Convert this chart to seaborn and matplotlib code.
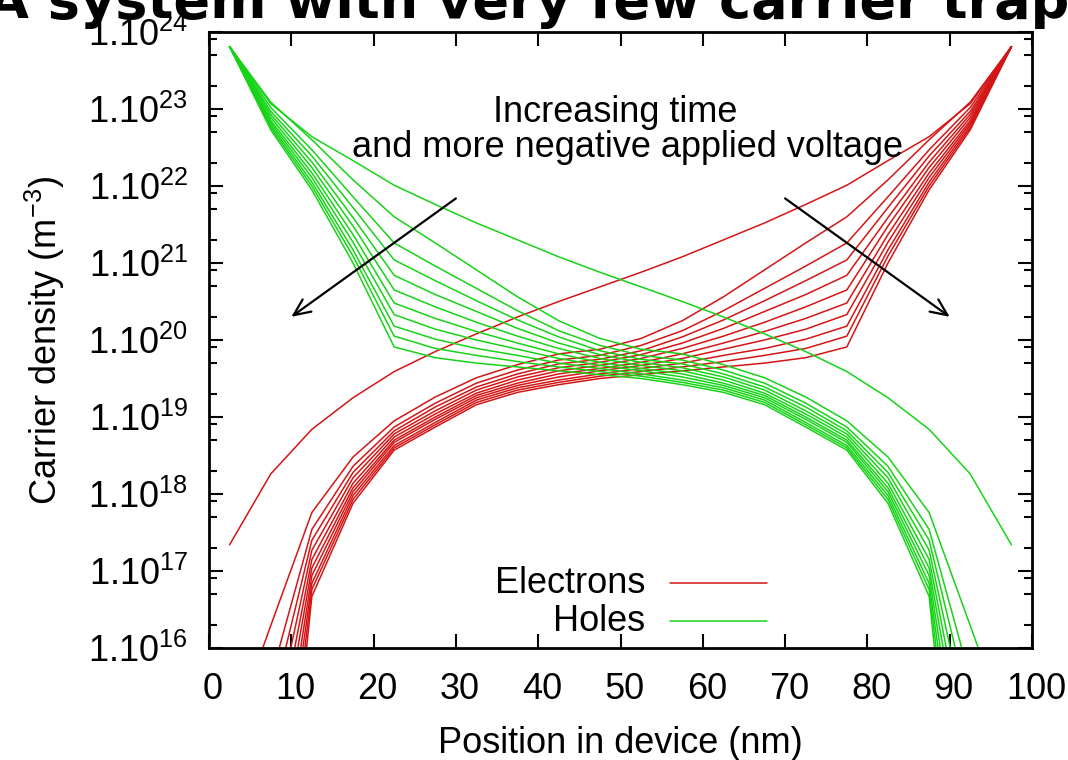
import numpy as np
import pandas as pd
import matplotlib
matplotlib.use("Agg")
import matplotlib.pyplot as plt
import matplotlib.transforms as mtransforms
from matplotlib.ticker import FixedLocator, NullFormatter, FuncFormatter
import seaborn as sns

# Grid positions (nm) of the simulation output
position_nm = [2.5, 7.5, 12.5, 17.5, 22.5, 27.5, 32.5, 37.5, 42.5, 47.5,
               52.5, 57.5, 62.5, 67.5, 72.5, 77.5, 82.5, 87.5, 92.5, 97.5]

# log10 of electron density (m^-3), one list per output time
e_t0 = [17.34, 18.26, 18.84, 19.25, 19.59, 19.85, 20.08, 20.30, 20.50, 20.69, 20.88, 21.08, 21.30, 21.52, 21.76, 22.01, 22.33, 22.64, 23.07, 23.81]
e_t1 = [14.80, 16.29, 17.76, 18.48, 18.95, 19.26, 19.51, 19.68, 19.82, 19.88, 20.02, 20.25, 20.56, 20.91, 21.26, 21.60, 22.08, 22.60, 23.09, 23.81]
e_t2 = [13.60, 15.60, 17.54, 18.36, 18.87, 19.18, 19.44, 19.61, 19.74, 19.80, 19.93, 20.12, 20.38, 20.67, 20.96, 21.26, 21.86, 22.47, 23.02, 23.81]
e_t3 = [13.20, 15.20, 17.40, 18.28, 18.82, 19.13, 19.39, 19.56, 19.69, 19.75, 19.86, 20.04, 20.26, 20.51, 20.77, 21.04, 21.72, 22.39, 22.97, 23.81]
e_t4 = [12.80, 14.80, 17.27, 18.21, 18.78, 19.08, 19.35, 19.52, 19.64, 19.71, 19.81, 19.96, 20.15, 20.37, 20.59, 20.84, 21.59, 22.31, 22.93, 23.81]
e_t5 = [12.40, 14.40, 17.15, 18.14, 18.74, 19.04, 19.31, 19.48, 19.60, 19.67, 19.76, 19.89, 20.05, 20.23, 20.43, 20.65, 21.48, 22.24, 22.89, 23.81]
e_t6 = [12.00, 14.00, 17.04, 18.08, 18.70, 19.00, 19.28, 19.44, 19.56, 19.63, 19.71, 19.82, 19.96, 20.11, 20.28, 20.48, 21.37, 22.17, 22.85, 23.81]
e_t7 = [11.50, 13.50, 16.94, 18.03, 18.67, 18.97, 19.25, 19.41, 19.52, 19.60, 19.67, 19.76, 19.88, 20.00, 20.14, 20.33, 21.27, 22.11, 22.82, 23.81]
e_t8 = [11.00, 13.00, 16.84, 17.98, 18.63, 18.93, 19.22, 19.38, 19.48, 19.56, 19.63, 19.70, 19.80, 19.89, 20.01, 20.18, 21.17, 22.05, 22.79, 23.81]
e_t9 = [10.30, 12.30, 16.76, 17.93, 18.60, 18.90, 19.19, 19.35, 19.45, 19.53, 19.59, 19.65, 19.72, 19.80, 19.89, 20.05, 21.09, 22.00, 22.76, 23.81]
e_t10 = [8.00, 11.50, 16.67, 17.88, 18.57, 18.87, 19.16, 19.32, 19.42, 19.50, 19.55, 19.60, 19.65, 19.70, 19.77, 19.91, 21.00, 21.95, 22.73, 23.81]

# log10 of hole density (m^-3), one list per output time
h_t0 = [23.81, 23.07, 22.64, 22.33, 22.01, 21.76, 21.52, 21.30, 21.08, 20.88, 20.69, 20.50, 20.30, 20.08, 19.85, 19.59, 19.25, 18.84, 18.26, 17.34]
h_t1 = [23.81, 23.09, 22.60, 22.08, 21.60, 21.26, 20.91, 20.56, 20.25, 20.02, 19.88, 19.82, 19.68, 19.51, 19.26, 18.95, 18.48, 17.76, 16.29, 14.80]
h_t2 = [23.81, 23.02, 22.47, 21.86, 21.26, 20.96, 20.67, 20.38, 20.12, 19.93, 19.80, 19.74, 19.61, 19.44, 19.18, 18.87, 18.36, 17.54, 15.60, 13.60]
h_t3 = [23.81, 22.97, 22.39, 21.72, 21.04, 20.77, 20.51, 20.26, 20.04, 19.86, 19.75, 19.69, 19.56, 19.39, 19.13, 18.82, 18.28, 17.40, 15.20, 13.20]
h_t4 = [23.81, 22.93, 22.31, 21.59, 20.84, 20.59, 20.37, 20.15, 19.96, 19.81, 19.71, 19.64, 19.52, 19.35, 19.08, 18.78, 18.21, 17.27, 14.80, 12.80]
h_t5 = [23.81, 22.89, 22.24, 21.48, 20.65, 20.43, 20.23, 20.05, 19.89, 19.76, 19.67, 19.60, 19.48, 19.31, 19.04, 18.74, 18.14, 17.15, 14.40, 12.40]
h_t6 = [23.81, 22.85, 22.17, 21.37, 20.48, 20.28, 20.11, 19.96, 19.82, 19.71, 19.63, 19.56, 19.44, 19.28, 19.00, 18.70, 18.08, 17.04, 14.00, 12.00]
h_t7 = [23.81, 22.82, 22.11, 21.27, 20.33, 20.14, 20.00, 19.88, 19.76, 19.67, 19.60, 19.52, 19.41, 19.25, 18.97, 18.67, 18.03, 16.94, 13.50, 11.50]
h_t8 = [23.81, 22.79, 22.05, 21.17, 20.18, 20.01, 19.89, 19.80, 19.70, 19.63, 19.56, 19.48, 19.38, 19.22, 18.93, 18.63, 17.98, 16.84, 13.00, 11.00]
h_t9 = [23.81, 22.76, 22.00, 21.09, 20.05, 19.89, 19.80, 19.72, 19.65, 19.59, 19.53, 19.45, 19.35, 19.19, 18.90, 18.60, 17.93, 16.76, 12.30, 10.30]
h_t10 = [23.81, 22.73, 21.95, 21.00, 19.91, 19.77, 19.70, 19.65, 19.60, 19.55, 19.50, 19.42, 19.32, 19.16, 18.87, 18.57, 17.88, 16.67, 11.50, 8.00]

electron_steps = [e_t0, e_t1, e_t2, e_t3, e_t4, e_t5, e_t6, e_t7, e_t8, e_t9, e_t10]
hole_steps = [h_t0, h_t1, h_t2, h_t3, h_t4, h_t5, h_t6, h_t7, h_t8, h_t9, h_t10]

species_labels = ["Electrons", "Holes"]
y_exponents = list(range(16, 25))

RED = "#d41515"
GREEN = "#17d317"
FS = 26

sns.set_theme(style="ticks")
plt.rcParams.update({
    "font.family": ["Liberation Sans", "DejaVu Sans"],
    "mathtext.fontset": "custom",
    "mathtext.rm": "Liberation Sans",
    "mathtext.it": "Liberation Sans:italic",
    "mathtext.bf": "Liberation Sans:bold",
    "axes.facecolor": "white",
    "figure.facecolor": "white",
    "text.color": "black",
    "axes.labelcolor": "black",
    "xtick.color": "black",
    "ytick.color": "black",
    "xtick.labelcolor": "black",
    "ytick.labelcolor": "black",
})

# long-form table: one row per (species, time step, grid point)
rows = []
for species, steps in zip(species_labels, (electron_steps, hole_steps)):
    for step, profile in enumerate(steps):
        for x, lv in zip(position_nm, profile):
            rows.append((species, step, x, 10.0 ** lv))
df = pd.DataFrame(rows, columns=["species", "step", "position", "density"])

fig = plt.figure(figsize=(10.68, 7.6), dpi=100)
ax = fig.add_axes([209 / 1068, 1 - 648 / 760, 823 / 1068, 616 / 760])

sns.lineplot(data=df, x="position", y="density", hue="species", units="step",
             estimator=None, sort=False, palette={"Electrons": RED, "Holes": GREEN},
             linewidth=1.1, legend=False, ax=ax)

ax.set_yscale("log")
ax.set_xlim(0, 100)
ax.set_ylim(10.0 ** y_exponents[0], 10.0 ** y_exponents[-1])

ax.set_xticks(range(0, 101, 10))
ax.yaxis.set_major_locator(FixedLocator([10.0 ** k for k in y_exponents]))
ax.yaxis.set_minor_locator(FixedLocator([m * 10.0 ** k for k in y_exponents[:-1] for m in (2, 5, 8)]))
ax.yaxis.set_major_formatter(FuncFormatter(
    lambda v, p: r"$\mathregular{1.10^{%d}}$" % int(round(np.log10(v)))))
ax.yaxis.set_minor_formatter(NullFormatter())

ax.tick_params(which="both", direction="in", top=True, right=True,
               width=1.5, color="black", labelcolor="black")
ax.tick_params(which="major", length=10)
ax.tick_params(which="minor", length=6)
ax.tick_params(axis="x", which="minor", bottom=False, top=False)
ax.tick_params(axis="x", labelsize=FS, pad=17)
ax.tick_params(axis="y", labelsize=FS, pad=15)
for sp in ax.spines.values():
    sp.set_linewidth(2)
    sp.set_color("black")

ax.set_xlabel("Position in device (nm)", fontsize=FS, labelpad=14)
ax.set_ylabel(r"Carrier density (m$^{\mathregular{-3}}$)", fontsize=FS, labelpad=15)

# x tick labels sit a few pixels right of their ticks
shift = mtransforms.ScaledTranslation(4 / 100, 0, fig.dpi_scale_trans)
for lbl in ax.get_xticklabels():
    lbl.set_transform(lbl.get_transform() + shift)

# annotation text and arrows
ax.text(49.4, 10 ** 22.835, "Increasing time", ha="center", va="baseline", fontsize=FS)
ax.text(50.9, 10 ** 22.373, "and more negative applied voltage", ha="center", va="baseline", fontsize=FS)
arrow_style = dict(arrowstyle="->,head_length=1.0,head_width=0.45", color="black",
                   lw=1.6, shrinkA=0, shrinkB=0)
ax.annotate("", xy=(10, 2.0e20), xytext=(30, 6.9e21), arrowprops=arrow_style)
ax.annotate("", xy=(90, 2.0e20), xytext=(70, 6.9e21), arrowprops=arrow_style)

# key, text right-aligned in front of the line sample
for label, color, ky in zip(species_labels, (RED, GREEN), (0.1055, 0.0438)):
    ax.text(0.5298, ky, label, transform=ax.transAxes, ha="right", va="center", fontsize=FS)
    ax.plot([0.560, 0.678], [ky, ky], transform=ax.transAxes, color=color, lw=1.1)

fig.text(-0.012, 1 - 18 / 760, "A system with very few carrier traps", fontsize=39,
         fontweight="bold", family="DejaVu Sans", ha="left", va="baseline")

fig.savefig("out.png", dpi=100)
